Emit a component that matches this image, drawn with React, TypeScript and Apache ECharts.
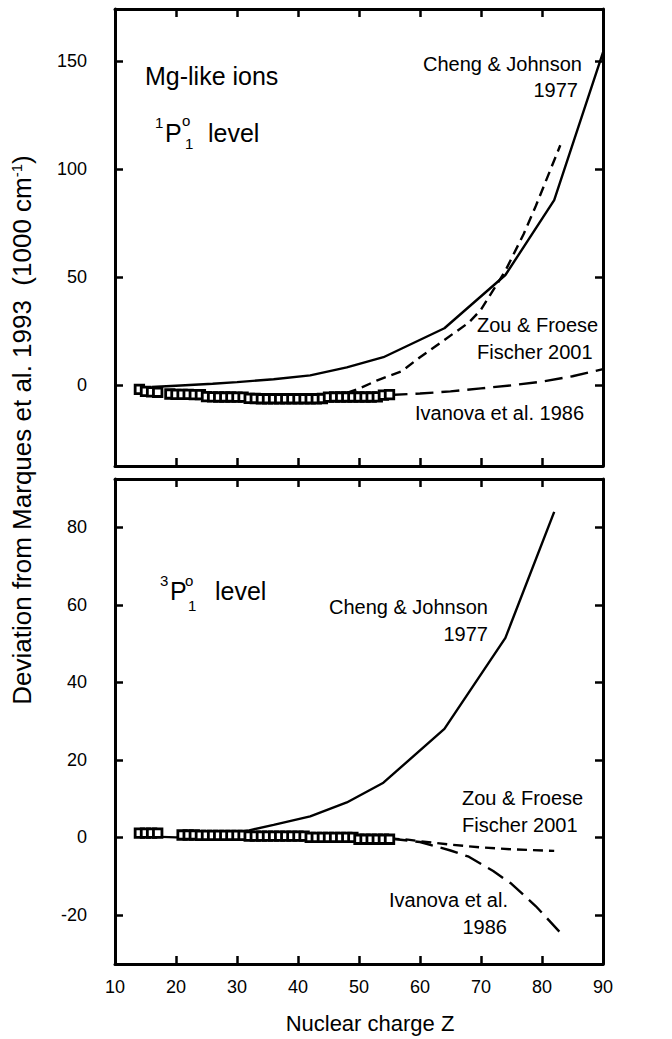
import React, { useEffect, useRef } from "react";
import * as echarts from "echarts";

const FONT = '"Liberation Sans", Arial, Helvetica, sans-serif';

// ---------- Data ----------
// Upper panel: 1P°1 level
const Z_TOP_SQ = [14, 15, 16, 17, 19, 20, 21, 22, 23, 24, 25, 26, 27, 28, 29, 30, 31, 32, 33, 34, 35, 36, 37, 38, 39, 40, 41, 42, 43, 44, 45, 46, 47, 48, 49, 50, 51, 52, 53, 54, 55];
const V_TOP_SQ = [-1.9, -2.8, -3.0, -3.2, -4.0, -4.2, -4.2, -4.2, -4.3, -4.3, -5.2, -5.3, -5.4, -5.4, -5.4, -5.5, -5.5, -6.0, -6.1, -6.2, -6.2, -6.2, -6.2, -6.2, -6.2, -6.2, -6.2, -6.2, -6.2, -6.1, -5.5, -5.4, -5.4, -5.4, -5.4, -5.4, -5.4, -5.4, -5.3, -4.5, -4.3];

const Z_TOP_CHENG = [16, 20, 26, 30, 36, 42, 48, 54, 64, 74, 82, 90];
const V_TOP_CHENG = [-0.8, -0.2, 0.7, 1.5, 2.8, 4.6, 8.3, 13, 26.4, 51, 85.6, 154];

const Z_TOP_ZOU = [48, 50, 53, 57, 60, 64, 68, 70, 72, 74, 77, 79, 83];
const V_TOP_ZOU = [-3.5, -1.5, 2.3, 6.5, 13, 21, 29, 35, 44, 53, 70, 83, 111];

const Z_TOP_IVA = [55, 60, 65, 70, 75, 80, 85, 90];
const V_TOP_IVA = [-4.5, -3.8, -2.8, -1.4, 0, 1.7, 4.2, 7.5];

// Lower panel: 3P°1 level
const Z_BOT_SQ = [14, 15, 16, 17, 21, 22, 23, 24, 25, 26, 27, 28, 29, 30, 31, 32, 33, 34, 35, 36, 37, 38, 39, 40, 41, 42, 43, 44, 45, 46, 47, 48, 49, 50, 51, 52, 53, 54, 55];
const V_BOT_SQ = [1.1, 1.1, 1.1, 1.1, 0.6, 0.6, 0.6, 0.5, 0.5, 0.5, 0.5, 0.5, 0.5, 0.5, 0.5, 0.3, 0.3, 0.3, 0.3, 0.3, 0.3, 0.3, 0.3, 0.3, 0.3, 0.0, 0.0, 0.0, 0.0, 0.0, 0.0, 0.0, 0.0, -0.5, -0.5, -0.5, -0.5, -0.5, -0.5];

const Z_BOT_CHENG = [14, 20, 26, 32, 36, 42, 48, 54, 64, 74, 82];
const V_BOT_CHENG = [0.3, 0, 0.6, 1.8, 3.2, 5.4, 9, 14.1, 28, 51.5, 84];

const Z_BOT_ZOU = [55, 58, 60, 65, 70, 75, 82];
const V_BOT_ZOU = [-0.3, -0.6, -1, -1.9, -2.6, -3.1, -3.5];

const Z_BOT_IVA = [55, 60, 65, 68, 72, 75, 79, 83];
const V_BOT_IVA = [-0.3, -1.2, -3.4, -5, -8.7, -12, -17.8, -24.6];

const Y_TOP_TICKS = [0, 50, 100, 150];
const Y_BOT_TICKS = [-20, 0, 20, 40, 60, 80];

const pairs = (xs: number[], ys: number[]) => xs.map((x, i) => [x, ys[i]]);

export default function App() {
  const ref = useRef<HTMLDivElement>(null);

  useEffect(() => {
    if (!ref.current) return;
    const chart = echarts.init(ref.current, undefined, { renderer: "svg" });

    const axisLine = { show: true, onZero: false, lineStyle: { color: "#000", width: 3 } };
    const tick = { show: true, inside: true, length: 8, lineStyle: { color: "#000", width: 2.5 } };
    const labelStyle = { color: "#000", fontSize: 18, fontFamily: FONT };

    const xAx = (gridIndex: number, position: string, labels: boolean) => ({
      type: "value",
      gridIndex,
      position,
      min: 10,
      max: 90,
      interval: 10,
      axisLine,
      axisTick: tick,
      splitLine: { show: false },
      axisLabel: labels ? { ...labelStyle, margin: 14 } : { show: false },
    });

    const yAx = (gridIndex: number, position: string, labels: boolean, min: number, max: number, ticks: number[]) => ({
      type: "value",
      gridIndex,
      position,
      min,
      max,
      axisLine,
      axisTick: { ...tick, customValues: ticks },
      splitLine: { show: false },
      axisLabel: labels ? { ...labelStyle, margin: 28, customValues: ticks } : { show: false, customValues: ticks },
    });

    const line = (xi: number, xs: number[], ys: number[], type: any) => ({
      type: "line",
      xAxisIndex: xi,
      yAxisIndex: xi,
      data: pairs(xs, ys),
      symbol: "none",
      showSymbol: false,
      lineStyle: { color: "#000", width: 2.4, type },
      z: 2,
    });

    const squares = (xi: number, xs: number[], ys: number[]) => ({
      type: "scatter",
      xAxisIndex: xi,
      yAxisIndex: xi,
      data: pairs(xs, ys),
      symbol: "rect",
      symbolSize: 8.5,
      itemStyle: { color: "#fff", borderColor: "#000", borderWidth: 2.8, opacity: 1 },
      z: 5,
    });

    const t = (text: string, x: number, y: number, size: number, align: string = "left") => ({
      type: "text",
      x,
      y,
      z: 10,
      style: { text, fontSize: size, fontFamily: FONT, fill: "#000", align, verticalAlign: "middle" },
    });

    const option: any = {
      animation: false,
      backgroundColor: "#fff",
      grid: [
        { left: 115, top: 9, width: 488, height: 457 },
        { left: 115, top: 479, width: 488, height: 485 },
      ],
      xAxis: [xAx(0, "bottom", false), xAx(0, "top", false), xAx(1, "bottom", true), xAx(1, "top", false)],
      yAxis: [
        yAx(0, "left", true, -37.3, 174, Y_TOP_TICKS),
        yAx(0, "right", false, -37.3, 174, Y_TOP_TICKS),
        yAx(1, "left", true, -32.7, 92.5, Y_BOT_TICKS),
        yAx(1, "right", false, -32.7, 92.5, Y_BOT_TICKS),
      ],
      series: [
        line(0, Z_TOP_CHENG, V_TOP_CHENG, "solid"),
        line(0, Z_TOP_ZOU, V_TOP_ZOU, [10, 6]),
        line(0, Z_TOP_IVA, V_TOP_IVA, [18, 8]),
        squares(0, Z_TOP_SQ, V_TOP_SQ),
        line(2, Z_BOT_CHENG, V_BOT_CHENG, "solid"),
        line(2, Z_BOT_ZOU, V_BOT_ZOU, [10, 6]),
        line(2, Z_BOT_IVA, V_BOT_IVA, [18, 8]),
        squares(2, Z_BOT_SQ, V_BOT_SQ),
      ],
      graphic: [
        // upper panel labels
        t("Mg-like ions", 145, 76, 25),
        t("1", 155, 122, 15),
        t("P", 165, 133, 25),
        t("o", 182, 120, 15),
        t("1", 185, 143, 15),
        t("level", 208, 133, 25),
        t("Cheng & Johnson", 582, 64, 20, "right"),
        t("1977", 578, 89.5, 20, "right"),
        t("Zou & Froese", 477, 325, 20),
        t("Fischer 2001", 477, 352, 20),
        t("Ivanova et al. 1986", 415, 412.5, 20),
        // lower panel labels
        t("3", 160, 580, 15),
        t("P", 170, 591, 25),
        t("o", 185, 580, 15),
        t("1", 188, 605, 15),
        t("level", 215, 591, 25),
        t("Cheng & Johnson", 488, 607, 20, "right"),
        t("1977", 488, 634, 20, "right"),
        t("Zou & Froese", 462, 798, 20),
        t("Fischer 2001", 462, 825, 20),
        t("Ivanova et al.", 508, 900, 20, "right"),
        t("1986", 507, 926.5, 20, "right"),
        // axis titles
        t("Nuclear charge Z", 370, 1023, 22, "center"),
        {
          type: "text",
          x: 22,
          y: 430,
          rotation: Math.PI / 2,
          z: 10,
          style: {
            text: "{a|Deviation from Marques et al. 1993  (1000 cm}{b|-1}{a|)}",
            align: "center",
            verticalAlign: "middle",
            fill: "#000",
            rich: {
              a: { fontSize: 26, fontFamily: FONT, fill: "#000" },
              b: { fontSize: 15, fontFamily: FONT, fill: "#000", verticalAlign: "top" },
            },
          },
        },
      ],
    };

    chart.setOption(option);
    return () => chart.dispose();
  }, []);

  return (
    <div
      ref={ref}
      style={{ position: "absolute", left: 0, top: 0, width: 672, height: 1039, background: "#fff" }}
    />
  );
}
